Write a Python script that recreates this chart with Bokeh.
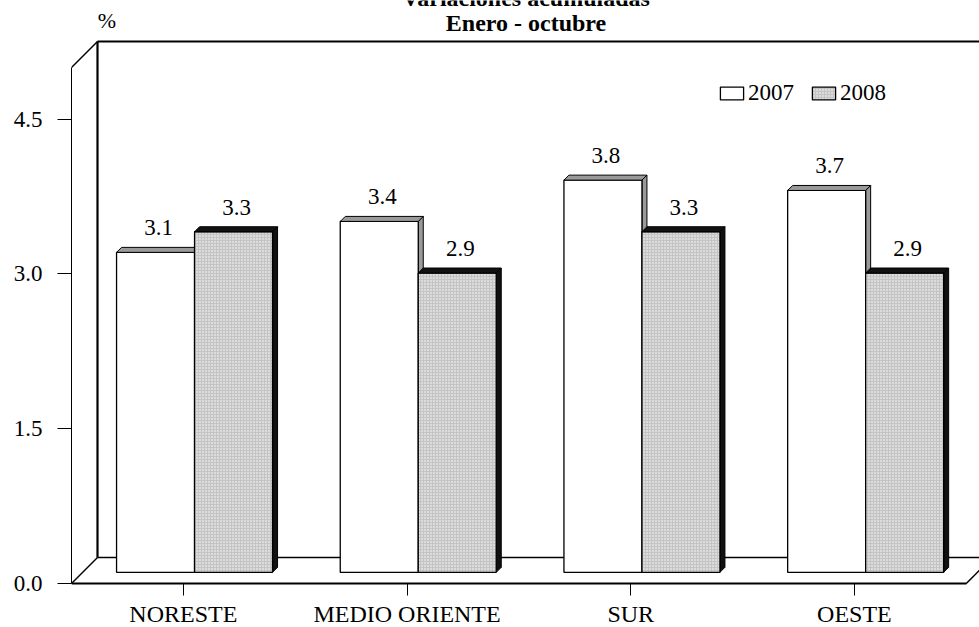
from bokeh.plotting import figure
from bokeh.models import (Range1d, FixedTicker, LinearAxis, Legend, LegendItem,
                          ColumnDataSource, NumeralTickFormatter)
from bokeh.core.properties import value
from bokeh.embed import file_html
from bokeh.resources import INLINE

# ---------------- data ----------------
categories = ["NORESTE", "MEDIO ORIENTE", "SUR", "OESTE"]
series_names = ["2007", "2008"]
values_2007 = [3.1, 3.4, 3.8, 3.7]
values_2008 = [3.3, 2.9, 3.3, 2.9]
y_ticks = [0.0, 1.5, 3.0, 4.5]
y_axis_max = 5.0
title_lines = ["Variaciones acumuladas", "Enero - octubre"]
unit_label = "%"

# ---------------- layout constants (pixels) ----------------
W, H = 979, 627
BORDER_L = 71
ZERO_FROM_BOTTOM = 44           # pixels between the 0-line and canvas bottom
PX_PER_CAT = 223.7
PX_PER_UNIT = 103.2
FRAME_W = W - BORDER_L
FONT = "Liberation Serif"


def dx(px):
    return px / PX_PER_CAT


def dy(px):
    return px / PX_PER_UNIT


DEPTH_X, DEPTH_Y = dx(26), dy(26)        # 3-D wall depth
OFF_X, OFF_Y = dx(11.2), dy(11.2)        # bars sit at mid depth
BAR_W = dx(78)
BAR_DX, BAR_DY = dx(5), dy(5)            # thin bar thickness

n = len(categories)
centers = [i + 1 for i in range(n)]
X0 = 0.5
X1 = n + 0.5
x_end = X0 + FRAME_W / PX_PER_CAT
y_start = -dy(ZERO_FROM_BOTTOM)
y_end = (H - ZERO_FROM_BOTTOM) / PX_PER_UNIT

p = figure(width=W, height=H,
           x_range=Range1d(X0, x_end), y_range=Range1d(y_start, y_end),
           output_backend="svg", toolbar_location=None,
           x_axis_location=None, y_axis_location=None,
           min_border_left=BORDER_L, min_border_right=0,
           min_border_top=0, min_border_bottom=0)
p.outline_line_color = None
p.background_fill_color = "white"
p.border_fill_color = "white"
p.xgrid.visible = False
p.ygrid.visible = False

# ---------------- axes ----------------
xaxis = LinearAxis(fixed_location=0, bounds=(X0, X1),
                   ticker=FixedTicker(ticks=centers),
                   major_label_overrides={c: cat for c, cat in zip(centers, categories)})
xaxis.axis_line_width = 2
xaxis.axis_line_color = "black"
xaxis.major_tick_out = 12
xaxis.major_tick_in = 0
xaxis.major_tick_line_color = "black"
xaxis.minor_tick_line_color = None
xaxis.major_label_standoff = 5
xaxis.major_label_text_font = FONT
xaxis.major_label_text_font_size = "24px"
xaxis.major_label_text_color = "black"
p.add_layout(xaxis, "below")

yaxis = LinearAxis(bounds=(0, y_axis_max),
                   ticker=FixedTicker(ticks=y_ticks),
                   formatter=NumeralTickFormatter(format="0.0"))
yaxis.axis_line_width = 1
yaxis.axis_line_color = "black"
yaxis.major_tick_out = 14
yaxis.major_tick_in = 0
yaxis.major_tick_line_color = "black"
yaxis.minor_tick_line_color = None
yaxis.major_label_standoff = 15
yaxis.major_label_text_font = FONT
yaxis.major_label_text_font_size = "23px"
yaxis.major_label_text_color = "black"
p.add_layout(yaxis, "left")

# ---------------- 3-D walls ----------------
walls = ColumnDataSource(dict(
    x0=[X0 + DEPTH_X, X0, X0, X0 + DEPTH_X, X0 + DEPTH_X, X1],
    y0=[DEPTH_Y, y_axis_max, 0, y_axis_max + DEPTH_Y, DEPTH_Y, 0],
    x1=[X0 + DEPTH_X, X0 + DEPTH_X, X0 + DEPTH_X, x_end + 1, X1 + DEPTH_X, X1 + DEPTH_X],
    y1=[y_axis_max + DEPTH_Y, y_axis_max + DEPTH_Y, DEPTH_Y, y_axis_max + DEPTH_Y, DEPTH_Y, DEPTH_Y],
    w=[2.2, 1.5, 1.5, 2.2, 1.6, 1.5],
))
p.segment(x0="x0", y0="y0", x1="x1", y1="y1", line_width="w", line_color="black", source=walls)


# ---------------- bars ----------------
def faces(xs, tops):
    top_x, top_y, side_x, side_y = [], [], [], []
    for xl, t in zip(xs, tops):
        xr = xl + BAR_W
        yt = t + OFF_Y
        yb = OFF_Y
        top_x.append([xl, xl + BAR_DX, xr + BAR_DX, xr])
        top_y.append([yt, yt + BAR_DY, yt + BAR_DY, yt])
        side_x.append([xr, xr + BAR_DX, xr + BAR_DX, xr])
        side_y.append([yb, yb + BAR_DY, yt + BAR_DY, yt])
    return top_x, top_y, side_x, side_y


left07 = [c + OFF_X - BAR_W for c in centers]
left08 = [c + OFF_X for c in centers]

renderers = []
for lefts, vals, fill, face_col, extra in [
        (left07, values_2007, "white", "#9a9a9a", {}),
        (left08, values_2008, "#c4c4c4", "#111111",
         dict(hatch_pattern="dot", hatch_color="white", hatch_scale=3, hatch_weight=1))]:
    tx, ty, sx, sy = faces(lefts, vals)
    p.patches(xs=sx, ys=sy, fill_color=face_col, line_color="black", line_width=1)
    src = ColumnDataSource(dict(x=[l + BAR_W / 2 for l in lefts], top=[v + OFF_Y for v in vals]))
    r = p.vbar(x="x", width=BAR_W, bottom=OFF_Y, top="top", source=src,
               fill_color=fill, line_color="black", line_width=1.3, **extra)
    renderers.append(r)
    p.patches(xs=tx, ys=ty, fill_color=face_col, line_color="black", line_width=1)

# value labels
lab_x, lab_y, lab_t = [], [], []
for lefts, vals in [(left07, values_2007), (left08, values_2008)]:
    for l, v in zip(lefts, vals):
        lab_x.append(l + BAR_W / 2 + dx(3))
        lab_y.append(v + OFF_Y + dy(24.5))
        lab_t.append(f"{v:.1f}")
p.text(x=lab_x, y=lab_y, text=lab_t, text_align="center", text_baseline="alphabetic",
       text_font=value(FONT), text_font_size="23px", text_color="black")

# ---------------- titles ----------------
title_x = X0 + dx(525.5 - 71)
p.text(x=[title_x, title_x], y=[y_end + dy(3), y_end - dy(22)], text=title_lines,
       text_align="center", text_baseline="alphabetic", text_font=value(FONT),
       text_font_size="24px", text_font_style="bold", text_color="black")
p.text(x=[X0 + dx(35.5)], y=[y_end - dy(20)], text=[unit_label],
       text_align="center", text_baseline="alphabetic", text_font=value(FONT),
       text_font_size="22px", text_color="black")

# ---------------- legend ----------------
legend = Legend(items=[LegendItem(label=series_names[0], renderers=[renderers[0]]),
                       LegendItem(label=series_names[1], renderers=[renderers[1]])],
                orientation="horizontal",
                location=(646, 477 + ZERO_FROM_BOTTOM),
                glyph_width=29, glyph_height=16, label_standoff=2, spacing=15,
                padding=0, margin=0, border_line_alpha=0, background_fill_alpha=0,
                label_text_font=FONT, label_text_font_size="23px",
                label_text_color="black")
p.add_layout(legend)

open("out.html", "w").write(file_html(p, INLINE))
